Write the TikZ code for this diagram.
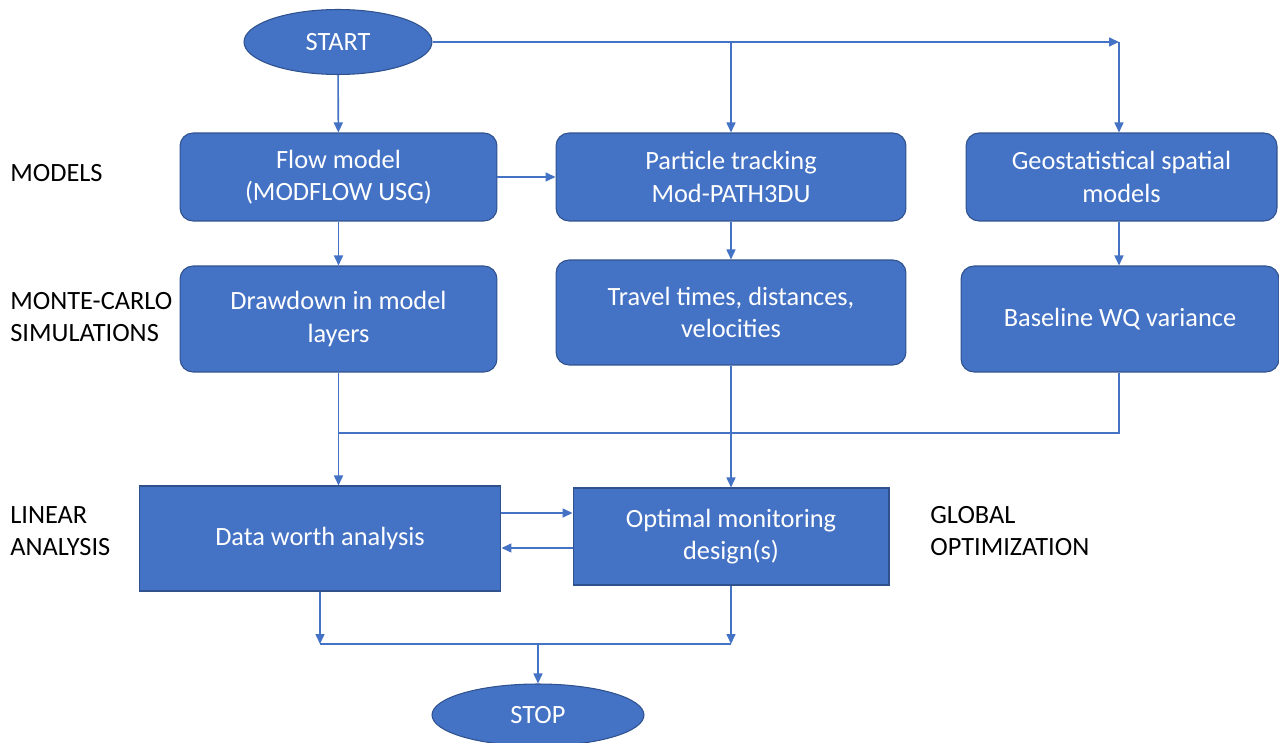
\documentclass[tikz,border=0pt]{standalone}
\usepackage{fontspec}
\setmainfont{Carlito}
\usetikzlibrary{arrows.meta,shapes.geometric}
\definecolor{boxblue}{HTML}{4472C4}
\definecolor{edgeblue}{HTML}{2F528F}

\begin{document}
\begin{tikzpicture}[x=0.02cm,y=-0.02cm,
  every node/.style={font=\fontsize{15}{18.5}\selectfont},
  proc/.style={draw=edgeblue, line width=0.6pt, fill=boxblue, text=white,
    rounded corners=0.26cm, align=center, inner sep=0pt},
  sharpbox/.style={proc, sharp corners},
  terminal/.style={ellipse, draw=edgeblue, line width=0.6pt, fill=boxblue,
    text=white, inner sep=0pt},
  lbl/.style={anchor=west, align=left, inner sep=0pt},
  link/.style={draw=boxblue, line width=0.9pt},
  arr/.style={link, -{Triangle[length=0.2cm,width=0.18cm]}}
]
\useasboundingbox (0,0) rectangle (1279,743);

% terminals
\node[terminal, minimum width=3.76cm, minimum height=1.3cm] (start) at (338,42) {START};
\node[terminal, minimum width=4.24cm, minimum height=1.24cm] (stop) at (538,715) {STOP};

% model row
\node[proc, minimum width=6.34cm, minimum height=1.76cm] (flow) at (338.5,177)
  {Flow model\\(MODFLOW USG)};
\node[proc, minimum width=7.0cm, minimum height=1.76cm] (part) at (731,177)
  {Particle tracking\\Mod-PATH3DU};
\node[proc, minimum width=6.22cm, minimum height=1.76cm] (geo) at (1121.5,177)
  {Geostatistical spatial\\models};

% simulation row
\node[proc, minimum width=6.34cm, minimum height=2.12cm] (drawd) at (338.5,319)
  {Drawdown in model\\layers};
\node[proc, minimum width=7.0cm, minimum height=2.1cm] (travel) at (731,312.5)
  {Travel times, distances,\\velocities};
\node[proc, minimum width=6.36cm, minimum height=2.12cm] (base) at (1120,319)
  {Baseline WQ variance};

% analysis row
\node[sharpbox, minimum width=7.24cm, minimum height=2.1cm] (dw) at (320,538.5)
  {Data worth analysis};
\node[sharpbox, minimum width=6.32cm, minimum height=1.94cm] (opt) at (731,536.5)
  {Optimal monitoring\\design(s)};

% row labels
\node[lbl] (lmod) at (10,173) {MODELS};
\node[lbl] (lmc) at (10,317) {MONTE-CARLO\\SIMULATIONS};
\node[lbl] (llin) at (10,531) {LINEAR\\ANALYSIS};
\node[lbl] (lglob) at (930,531) {GLOBAL\\OPTIMIZATION};

% branching from START
\coordinate (tr) at (1119,42);
\draw[arr] (start) -- (flow);
\draw[arr] (start.east) -- (tr);
\draw[arr] (tr) -- (tr |- geo.north);
\draw[arr] (start.east -| part.north) -- (part.north);

% model row to simulation row
\draw[arr] (flow.east) -- (part.west);
\draw[arr] (flow.south -| drawd.north) -- (drawd.north);
\draw[arr] (part.south) -- (travel.north);
\draw[arr] (tr |- geo.south) -- (tr |- base.north);

% gathering into the analysis row
\coordinate (j1) at (338,433);
\draw[link] (tr |- base.south) -- (tr |- j1) -- (j1);
\draw[arr] (drawd.south) -- (drawd.south |- dw.north);
\draw[arr] (travel.south) -- (opt.north);

% exchange between analysis boxes
\draw[arr] ([yshift=0.51cm]dw.east) -- ([yshift=0.51cm]dw.east -| opt.west);
\draw[arr] ([yshift=-0.23cm]opt.west) -- ([yshift=-0.23cm]opt.west -| dw.east);

% merging to STOP
\coordinate (j2) at (538,644);
\draw[arr] (dw.south) -- (dw.south |- j2);
\draw[arr] (opt.south) -- (opt.south |- j2);
\draw[link] (dw.south |- j2) -- (opt.south |- j2);
\draw[arr] (j2) -- (stop.north);
\end{tikzpicture}
\end{document}
